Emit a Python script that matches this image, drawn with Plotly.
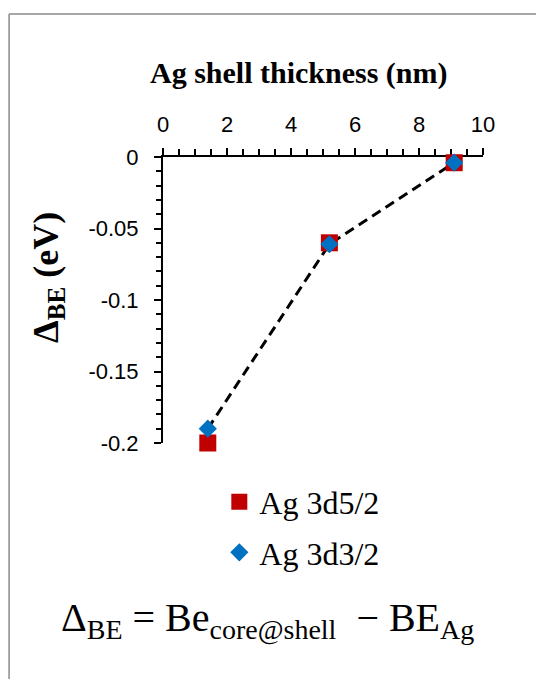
import plotly.graph_objects as go

# Data
thickness = [1.4, 5.2, 9.1]
ag_3d52 = [-0.200, -0.060, -0.004]
ag_3d32 = [-0.190, -0.061, -0.004]
series_names = ["Ag 3d5/2", "Ag 3d3/2"]
x_tickvals = [0, 2, 4, 6, 8, 10]
y_tickvals = [0, -0.05, -0.1, -0.15, -0.2]
y_ticktext = ["0", "-0.05", "-0.1", "-0.15", "-0.2"]

RED = "#C00000"
BLUE = "#0070C0"
SERIF = "Liberation Serif, Times New Roman, serif"
SANS = "Liberation Sans, Arial, sans-serif"

fig = go.Figure()
fig.add_trace(go.Scatter(
    x=thickness, y=ag_3d32, mode="lines", showlegend=False,
    line=dict(color="black", width=3, dash="10px,6px"), cliponaxis=False,
    hoverinfo="skip"))
fig.add_trace(go.Scatter(
    x=thickness, y=ag_3d52, mode="markers", name=series_names[0],
    marker=dict(symbol="square", size=17, color=RED), cliponaxis=False,
    legendgroup="a"))
fig.add_trace(go.Scatter(
    x=thickness, y=ag_3d32, mode="markers", name=series_names[1],
    marker=dict(symbol="diamond", size=14, color=BLUE), cliponaxis=False,
    legendgroup="b"))

BORDER = dict(color="#8a8a8a", width=1.5)

fig.update_layout(
    width=536, height=679,
    margin=dict(l=163, r=53, t=157, b=236),
    paper_bgcolor="white", plot_bgcolor="white",
    xaxis=dict(
        range=[0, 10], side="top", tickvals=x_tickvals,
        showline=True, linecolor="black", linewidth=2,
        ticks="outside", ticklen=7, tickwidth=2, tickcolor="black",
        minor=dict(dtick=0.5, ticks="outside", ticklen=6, tickwidth=2, tickcolor="black"),
        showgrid=False, zeroline=False, layer="below traces",
        tickfont=dict(family=SANS, size=22, color="black"),
        ticklabelstandoff=7,
    ),
    xaxis2=dict(
        range=[0, 10], overlaying="x", matches="x", side="top", anchor="y",
        tickvals=x_tickvals, ticks="inside", ticklen=7, tickwidth=2, tickcolor="black",
        showticklabels=False, showline=False, showgrid=False, zeroline=False,
        layer="below traces",
    ),
    yaxis=dict(
        range=[-0.2, 0], tickvals=y_tickvals, ticktext=y_ticktext,
        showline=True, linecolor="black", linewidth=2,
        ticks="outside", ticklen=7, tickwidth=2, tickcolor="black",
        minor=dict(dtick=0.01, ticks="outside", ticklen=5, tickwidth=2, tickcolor="black"),
        showgrid=False, zeroline=False, layer="below traces",
        tickfont=dict(family=SANS, size=22, color="black"),
        ticklabelstandoff=11,
    ),
    legend=dict(
        x=0.176, y=-0.11, xanchor="left", yanchor="top",
        font=dict(family=SERIF, size=32, color="black"),
        bgcolor="rgba(0,0,0,0)", tracegroupgap=6, traceorder="grouped",
    ),
    shapes=[
        dict(type="line", xref="paper", yref="paper",
             x0=-0.481, x1=-0.481, y0=-1.0, y1=1.5, line=BORDER, layer="below"),
        dict(type="line", xref="paper", yref="paper",
             x0=-0.481, x1=1.25, y0=1.5, y1=1.5, line=BORDER, layer="below"),
    ],
    annotations=[
        dict(text="<b>Ag shell thickness (nm)</b>", xref="paper", yref="paper",
             x=0.425, y=1.294, showarrow=False, xanchor="center", yanchor="middle",
             font=dict(family=SERIF, size=30, color="black")),
        dict(text="<b>Δ<sub>BE</sub> (eV)</b>", xref="paper", yref="paper",
             x=-0.36, y=0.58, showarrow=False, textangle=-90,
             xanchor="center", yanchor="middle",
             font=dict(family=SERIF, size=36, color="black")),
        dict(text="Δ<sub>BE</sub> = Be<sub>core@shell</sub>  − BE<sub>Ag</sub>",
             xref="paper", yref="paper", x=0.326, y=-0.62, showarrow=False,
             xanchor="center", yanchor="middle",
             font=dict(family=SERIF, size=40, color="black")),
    ],
)

fig.write_html(
    "out.html",
    config={"displayModeBar": False},
    post_script="document.body.style.margin='0';document.body.style.overflow='hidden';",
)
